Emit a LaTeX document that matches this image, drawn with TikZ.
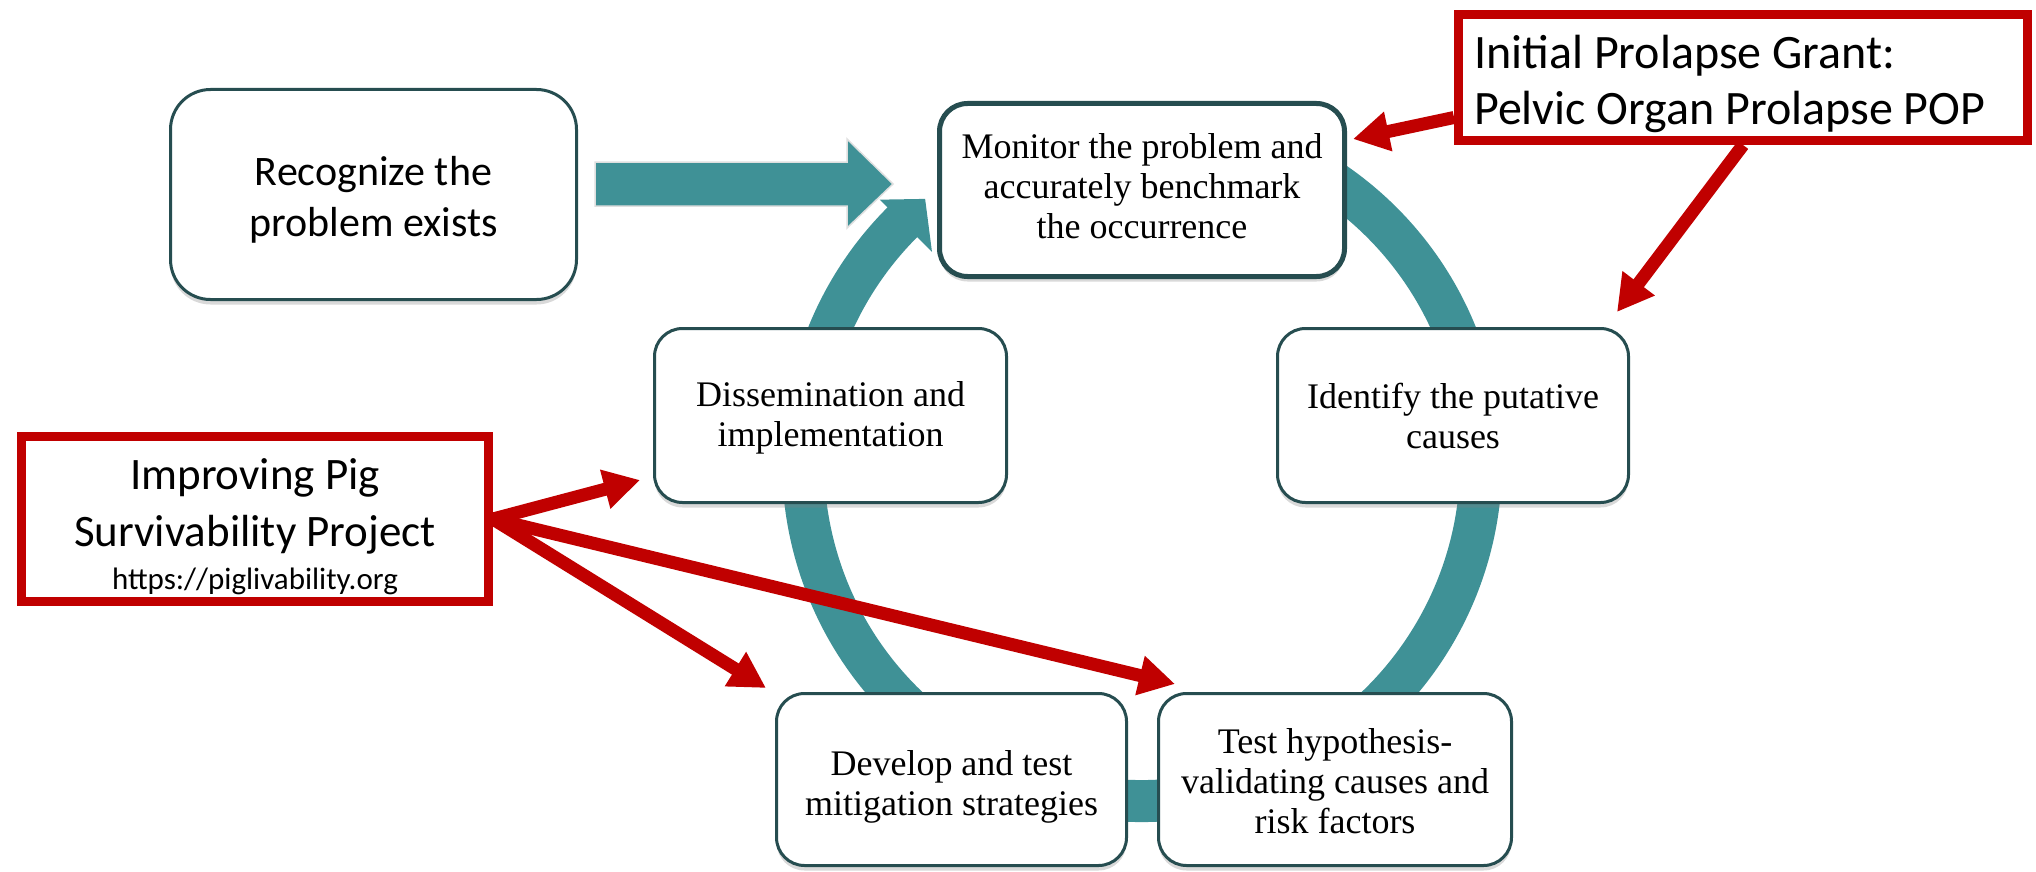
\documentclass[tikz,border=0pt]{standalone}
\usepackage{fontspec}
\setmainfont{Liberation Serif}
\newfontfamily\calfont{Carlito}
\usetikzlibrary{arrows.meta,shadows,calc}
\definecolor{ringteal}{HTML}{3F9196}
\definecolor{boxline}{HTML}{264D50}
\definecolor{myred}{HTML}{C00000}
\begin{document}
\begin{tikzpicture}[x=1pt,y=1pt,
  cyc/.style={draw=boxline, line width=3pt, fill=white, rounded corners=28pt, inner sep=0pt,
    drop shadow={shadow xshift=0pt, shadow yshift=-5pt, opacity=0.3}},
  cyctext/.style={align=center, inner sep=0pt, font=\fontsize{36}{40}\selectfont},
  redbox/.style={draw=myred, line width=9pt, fill=white, inner sep=0pt},
  redarrow/.style={draw=myred, line width=13pt, -{Triangle[length=36pt,width=38pt]}},
  ring/.style={draw=ringteal, line width=42pt},
  bigarrow/.style={fill=ringteal, draw=white!75!gray, line width=1.5pt},
]
\useasboundingbox (0,0) rectangle (2036,-872);

% cycle ring
\coordinate (cc) at (1142,-462);
\draw[ring] ([shift={(100:339)}]cc) arc[start angle=100, end angle=-225.5, radius=339];
\fill[ringteal] ([shift={(135:371)}]cc) -- ([shift={(129.5:341)}]cc) -- ([shift={(135:297)}]cc) -- cycle;

% big arrow
\draw[bigarrow] (595,-162) -- (847,-162) -- (847,-139) -- (893,-184) -- (847,-228) -- (847,-206) -- (595,-206) -- cycle;

% boxes
\node[cyc, rounded corners=40pt, minimum width=406pt, minimum height=210pt] (rec) at (373.5,-194.5) {};
\node[cyctext, font=\calfont\fontsize{42}{51}\selectfont] (rect) at ([yshift=-5pt]rec.center) {Recognize the\\problem exists};

\node[cyc, line width=5pt, minimum width=405pt, minimum height=173pt] (mon) at (1142,-190) {};
\node[cyctext] (mont) at ([yshift=4pt]mon.center) {Monitor the problem and\\accurately benchmark\\the occurrence};

\node[cyc, minimum width=351pt, minimum height=174pt] (ide) at (1453,-415.5) {};
\node[cyctext] (idet) at (ide.center) {Identify the putative\\causes};

\node[cyc, minimum width=352pt, minimum height=174pt] (dis) at (830.5,-415.5) {};
\node[cyctext] (dist) at ([yshift=-2pt]dis.center) {Dissemination and\\implementation};

\node[cyc, minimum width=350pt, minimum height=172pt] (dev) at (951.5,-779.5) {};
\node[cyctext] (devt) at ([yshift=-7pt]dev.center) {Develop and test\\mitigation strategies};

\node[cyc, minimum width=353pt, minimum height=172pt] (tes) at (1335,-779.5) {};
\node[cyctext] (test) at ([yshift=-2pt]tes.center) {Test hypothesis-\\validating causes and\\risk factors};

% red boxes
\node[redbox, minimum width=569pt, minimum height=126pt] (ini) at (1743,-77.5) {};
\node[anchor=west, inner sep=0pt, align=flush left, font=\calfont\fontsize{48}{56}\selectfont] (init)
  at ([xshift=20pt,yshift=-6pt]ini.west) {Initial Prolapse Grant:\\Pelvic Organ Prolapse POP};

\node[redbox, minimum width=467pt, minimum height=165pt] (imp) at (255,-519) {};
\node[align=center, inner sep=0pt, font=\calfont\fontsize{45}{57}\selectfont] (impt) at ([yshift=-8pt]imp.center)
  {Improving Pig\\Survivability Project\\[-14pt]{\fontsize{31}{36}\selectfont https://piglivability.org}};

% red arrows
\coordinate (s1) at ([yshift=-40pt]ini.west);
\coordinate (t1) at (1353,-139);
\coordinate (t2) at (1617,-312);
\coordinate (t3) at (640,-480);
\coordinate (t4) at (766,-688);
\coordinate (t5) at (1175,-684);
\draw[redarrow] (s1) -- (t1);
\draw[redarrow] (ini.south) -- (t2);
\draw[redarrow] (imp.east) -- (t3);
\draw[redarrow] (imp.east) -- (t4);
\draw[redarrow] (imp.east) -- (t5);
\end{tikzpicture}
\end{document}
